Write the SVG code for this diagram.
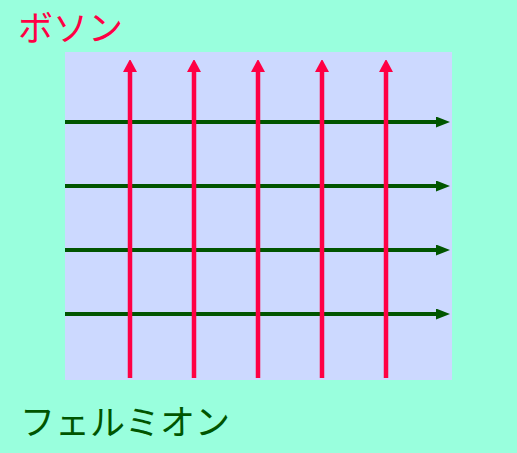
<svg xmlns="http://www.w3.org/2000/svg" width="517" height="453" viewBox="0 0 517 453">
<defs>
<style>
.v{stroke:#ff0044;stroke-width:4.5;fill:none}
.h{stroke:#005500;stroke-width:4;fill:none}
.t{font-family:"Noto Sans CJK JP","Noto Sans",sans-serif;font-size:35px}
</style>
<marker id="ar" markerUnits="userSpaceOnUse" viewBox="0 0 12 14" refX="0" refY="7" markerWidth="12" markerHeight="14" orient="auto"><path d="M0,0L13,7L0,14z" fill="#ff0044"/></marker>
<marker id="ag" markerUnits="userSpaceOnUse" viewBox="0 0 14 11" refX="0" refY="5.5" markerWidth="14" markerHeight="11" orient="auto"><path d="M0,0L14,5.5L0,11z" fill="#005500"/></marker>
</defs>
<rect width="517" height="453" fill="#99ffdd"/>
<rect id="plane" x="65" y="52" width="387" height="328" fill="#ccd9ff"/>
<g id="connectors">
<path class="h" d="M65,122H436" marker-end="url(#ag)"/>
<path class="h" d="M65,186H436" marker-end="url(#ag)"/>
<path class="h" d="M65,250H436" marker-end="url(#ag)"/>
<path class="h" d="M65,314H436" marker-end="url(#ag)"/>
<path class="v" d="M130,378V72" marker-end="url(#ar)"/>
<path class="v" d="M194,378V72" marker-end="url(#ar)"/>
<path class="v" d="M258,378V72" marker-end="url(#ar)"/>
<path class="v" d="M322,378V72" marker-end="url(#ar)"/>
<path class="v" d="M386,378V72" marker-end="url(#ar)"/>
</g>
<g id="boson"><text class="t" x="18" y="41" fill="#ff0044">ボソン</text></g>
<g id="fermion"><text class="t" x="20" y="435" fill="#005500">フェルミオン</text></g>
</svg>
